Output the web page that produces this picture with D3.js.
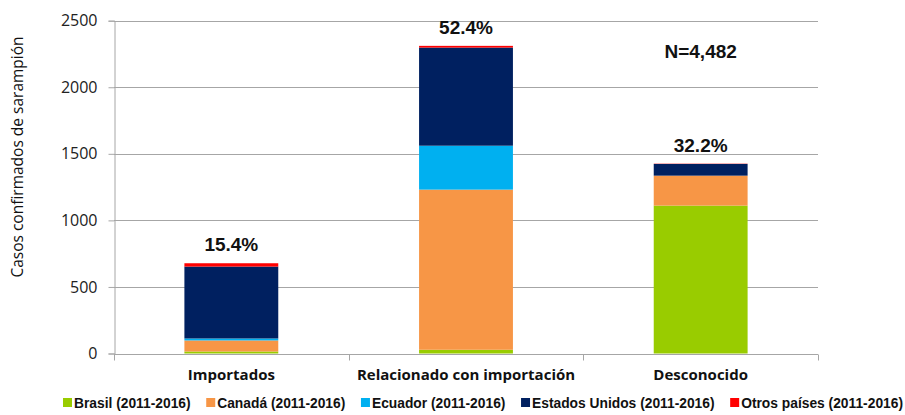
<!DOCTYPE html>
<html>
<head>
<meta charset="utf-8">
<script src="https://cdn.jsdelivr.net/npm/d3@7"></script>
<style>
  body { margin: 0; background: #fff; }
  svg { display: block; }
</style>
</head>
<body>
<svg id="svg" width="905" height="415"></svg>
<script>
// categories and series
const categories = ["Importados", "Relacionado con importación", "Desconocido"]
const seriesNames = ["Brasil (2011-2016)", "Canadá (2011-2016)", "Ecuador (2011-2016)", "Estados Unidos (2011-2016)", "Otros países (2011-2016)"]
const brasil = [15, 28, 1111]
const canada = [83, 1203, 225]
const ecuador = [15, 330, 0]
const estadosUnidos = [540, 737, 88]
const otros = [25, 13, 2]
const pctLabels = ["15.4%", "52.4%", "32.2%"]
const yTicks = [0, 500, 1000, 1500, 2000, 2500]
const colors = ["#99cc00", "#f79646", "#00b0f0", "#002060", "#ff0000"]

const svg = d3.select("#svg")
const x0 = 114, x1 = 818, yTop = 20.7, yBot = 353.5

const rows = categories.map((c, i) => ({
    cat: c,
    s0: brasil[i], s1: canada[i], s2: ecuador[i], s3: estadosUnidos[i], s4: otros[i]
}))
const keys = ["s0", "s1", "s2", "s3", "s4"]
const stacked = d3.stack().keys(keys)(rows)

const xs = d3.scaleBand().domain(categories).range([x0, x1]).paddingInner(0.6).paddingOuter(0.3)
const xb = d3.scaleBand().domain(categories).range([x0, x1])
const ys = d3.scaleLinear().domain([0, 2500]).range([yBot, yTop])

// gridlines
svg.append("g")
    .selectAll("line")
    .data(yTicks.filter(d => d > 0))
    .enter().append("line")
    .attr("x1", x0).attr("x2", x1)
    .attr("y1", d => Math.round(ys(d)) + 0.5).attr("y2", d => Math.round(ys(d)) + 0.5)
    .attr("stroke", "#a6a6a6").attr("stroke-width", 1)

// y axis
const yAxis = svg.append("g")
    .attr("transform", `translate(${x0 + 0.5},0)`)
    .call(d3.axisLeft(ys).tickValues(yTicks).tickSize(6).tickPadding(11).tickFormat(d3.format("d")))
yAxis.select(".domain").attr("stroke", "#a6a6a6")
yAxis.selectAll(".tick line").attr("stroke", "#a6a6a6")
yAxis.selectAll("text")
    .attr("font-family", "'Open Sans', sans-serif").attr("font-size", 16).attr("fill", "#222")

// x axis
const xAxis = svg.append("g")
    .attr("transform", `translate(0,${Math.round(yBot) + 0.5})`)
xAxis.append("line").attr("x1", x0).attr("x2", x1).attr("stroke", "#a6a6a6")
xAxis.selectAll(".tk")
    .data([x0, ...categories.map(c => xb(c) + xb.bandwidth())])
    .enter().append("line")
    .attr("x1", d => Math.round(d) + 0.5).attr("x2", d => Math.round(d) + 0.5)
    .attr("y1", 0).attr("y2", 6)
    .attr("stroke", "#a6a6a6")
xAxis.selectAll("text")
    .data(categories)
    .enter().append("text")
    .attr("x", d => xs(d) + xs.bandwidth() / 2)
    .attr("y", 25)
    .attr("text-anchor", "middle")
    .attr("font-family", "'Open Sans', sans-serif").attr("font-weight", "bold").attr("font-size", 15)
    .attr("fill", "#111")
    .text(d => d)

// bars
svg.append("g")
    .selectAll("g")
    .data(stacked)
    .enter().append("g")
    .attr("fill", (d, i) => colors[i])
    .selectAll("rect")
    .data(d => d)
    .enter().append("rect")
    .attr("x", d => xs(d.data.cat))
    .attr("width", xs.bandwidth())
    .attr("y", d => ys(d[1]))
    .attr("height", d => ys(d[0]) - ys(d[1]))

// percentage labels
const totals = rows.map(r => keys.reduce((a, k) => a + r[k], 0))
svg.append("g")
    .selectAll("text")
    .data(categories)
    .enter().append("text")
    .attr("x", d => xs(d) + xs.bandwidth() / 2)
    .attr("y", (d, i) => ys(totals[i]) - 12)
    .attr("text-anchor", "middle")
    .attr("font-family", "'Liberation Sans', Arial, sans-serif").attr("font-weight", "bold").attr("font-size", 19)
    .attr("fill", "#111")
    .text((d, i) => pctLabels[i])

svg.append("text")
    .attr("x", xs(categories[2]) + xs.bandwidth() / 2)
    .attr("y", 58)
    .attr("text-anchor", "middle")
    .attr("font-family", "'Liberation Sans', Arial, sans-serif").attr("font-weight", "bold").attr("font-size", 19)
    .attr("fill", "#111")
    .text("N=4,482")

// y title
svg.append("text")
    .attr("transform", "translate(23,157) rotate(-90)")
    .attr("text-anchor", "middle")
    .attr("font-family", "'Open Sans', sans-serif").attr("font-size", 15.5)
    .attr("fill", "#111")
    .text("Casos confirmados de sarampión")

// legend: spread items between x=63 and x=903
const legend = svg.append("g").attr("transform", "translate(63,408)")
const items = seriesNames.map((name, i) => {
    const g = legend.append("g")
    g.append("rect").attr("x", 0).attr("y", -10).attr("width", 9).attr("height", 9).attr("fill", colors[i])
    const t = g.append("text").attr("x", 11).attr("y", 0)
        .attr("font-family", "'Liberation Sans Narrow', 'Arial Narrow', sans-serif")
        .attr("font-weight", "bold").attr("font-size", 13.8).attr("fill", "#111")
        .text(name)
    return { g, w: 11 + t.node().getComputedTextLength() }
})
const used = d3.sum(items, d => d.w)
const gap = Math.max(6, (840 - used) / (items.length - 1))
let lx = 0
items.forEach(it => {
    it.g.attr("transform", `translate(${lx},0)`)
    lx += it.w + gap
})
</script>
</body>
</html>
